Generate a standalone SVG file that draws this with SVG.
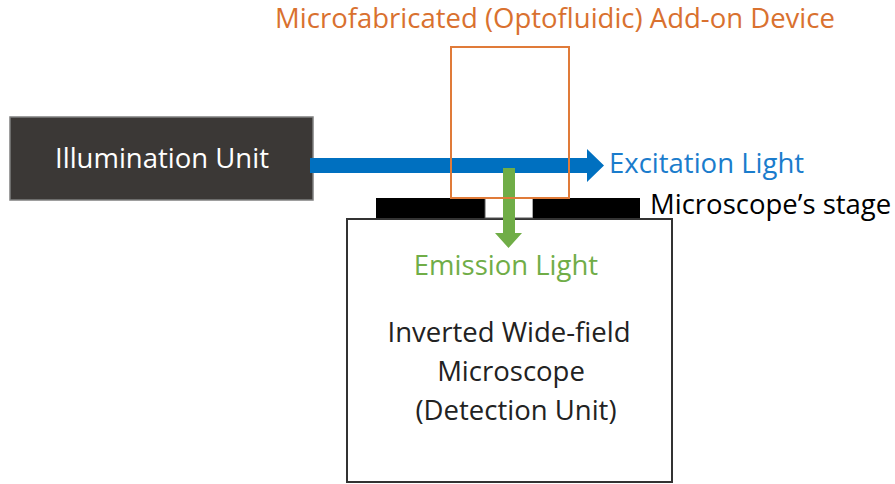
<svg xmlns="http://www.w3.org/2000/svg" width="895" height="484" viewBox="0 0 895 484">
<style>
text{font-family:"Open Sans","Noto Sans","DejaVu Sans",sans-serif;font-size:27.5px}
.c{text-anchor:middle}
</style>
<rect width="895" height="484" fill="#fff"/>
<g id="illumination">
<rect x="10" y="117" width="303" height="83" fill="#3b3836" stroke="#7f7f7f" stroke-width="1.5"/>
<text x="162" y="168" class="c" fill="#fff">Illumination Unit</text>
</g>
<g id="microscope">
<rect x="347" y="219" width="325" height="263" fill="#fff" stroke="#333" stroke-width="2"/>
<text x="509" y="342" class="c" fill="#222">Inverted Wide-field</text>
<text x="511" y="381" class="c" fill="#222">Microscope</text>
<text x="516" y="420" class="c" fill="#222">(Detection Unit)</text>
</g>
<g id="stage">
<rect x="376" y="198" width="109" height="20" fill="#000"/>
<rect x="485" y="198" width="48" height="20" fill="#fff" stroke="#555" stroke-width="1"/>
<rect x="533" y="198" width="107" height="20" fill="#000"/>
<text x="650" y="214" fill="#000">Microscope’s stage</text>
</g>
<g id="connectors">
<path d="M310 158H587V149L604 165.5L587 182V173H310Z" fill="#0070c0"/>
<path d="M503 168H515V233H522L508.5 248L495 233H503Z" fill="#70ad47"/>
</g>
<g id="device">
<rect x="451" y="47" width="118" height="151" fill="none" stroke="#e07b39" stroke-width="2"/>
<text x="555" y="28" class="c" fill="#d9712f">Microfabricated (Optofluidic) Add-on Device</text>
</g>
<g id="labels">
<text x="609" y="173" fill="#1a7ccc">Excitation Light</text>
<text x="506" y="275" class="c" fill="#70ad47">Emission Light</text>
</g>
</svg>
